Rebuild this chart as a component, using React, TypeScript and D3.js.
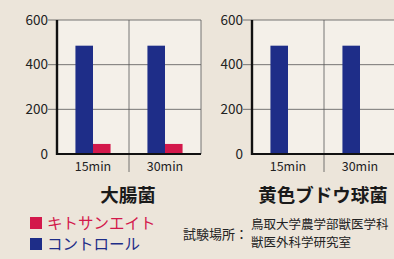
import React from 'react'
import * as d3 from 'd3'

const categories = ['15min', '30min']
const seriesNames = ['コントロール', 'キトサンエイト']
const panelTitles = ['大腸菌', '黄色ブドウ球菌']
const ecoliControl = [485, 485]
const ecoliChitosan = [45, 45]
const staphControl = [485, 485]
const staphChitosan = [0, 0]
const yTicks = [0, 200, 400, 600]

const BLUE = '#1e2d88'
const RED = '#d3184b'
const FONT = '"Noto Sans CJK JP", "Noto Sans", sans-serif'

type PanelProps = { left: number; title: string; control: number[]; chitosan: number[] }

function Panel({ left, title, control, chitosan }: PanelProps) {
  const top = 20
  const height = 134
  const width = 144
  const x0 = d3.scaleBand().domain(categories).range([0, width]).paddingInner(0).paddingOuter(0)
  // 2本のバーを帯の中央に
  const x1 = d3.scaleBand().domain(seriesNames).range([0, x0.bandwidth()]).paddingInner(0).paddingOuter(1.05)
  const y = d3.scaleLinear().domain([0, 600]).range([height, 0])
  const rows = categories.map((c, i) => ({ c, vals: [control[i], chitosan[i]] }))
  const color = d3.scaleOrdinal<string>().domain(seriesNames).range([BLUE, RED])

  return (
    <g transform={`translate(${left},${top})`}>
      <rect x={0} y={0} width={width} height={height} fill="#f4f0e9" />
      {yTicks.filter(t => t > 0).map(t => (
        <line key={t} x1={-9} x2={width} y1={y(t)} y2={y(t)} stroke="#555" strokeWidth={0.8} />
      ))}
      {d3.range(1, categories.length + 1).map(i => (
        <line key={i} x1={i * x0.bandwidth()} x2={i * x0.bandwidth()} y1={0}
          y2={i < categories.length ? height + 18 : height} stroke="#555" strokeWidth={0.8} />
      ))}
      {rows.map(r => (
        <g key={r.c} transform={`translate(${x0(r.c)},0)`}>
          {r.vals.map((v, j) => (
            <rect key={j} x={x1(seriesNames[j])} width={x1.bandwidth()} y={y(v)}
              height={height - y(v)} fill={color(seriesNames[j])} />
          ))}
          <text x={x0.bandwidth() / 2} y={height + 17} textAnchor="middle" fontSize={12.5}
            fontFamily={FONT} fill="#222">{r.c}</text>
        </g>
      ))}
      <line x1={0} x2={0} y1={0} y2={height + 1} stroke="#111" strokeWidth={2.4} />
      <line x1={-1} x2={width} y1={height} y2={height} stroke="#111" strokeWidth={2.2} />
      {yTicks.map(t => (
        <text key={t} x={-9} y={y(t) + 4.5} textAnchor="end" fontSize={13.5}
          fontFamily={FONT} fill="#222">{t}</text>
      ))}
      <text x={width / 2 - 1} y={height + 48} textAnchor="middle" fontSize={18.5}
        fontWeight="bold" fontFamily={FONT} fill="#1a1a1a">{title}</text>
    </g>
  )
}

export default function App() {
  return (
    <div style={{ position: 'fixed', left: 0, top: 0 }}>
      <svg width={394} height={259} style={{ display: 'block' }}>
        <rect width={394} height={259} fill="#ece5da" />
        <Panel left={57} title={panelTitles[0]} control={ecoliControl} chitosan={ecoliChitosan} />
        <Panel left={252} title={panelTitles[1]} control={staphControl} chitosan={staphChitosan} />
        <rect x={30} y={217} width={12} height={12} fill={RED} />
        <text x={47} y={229} fontSize={15.5} fontFamily={FONT} fill={RED}>{seriesNames[1]}</text>
        <rect x={30} y={238} width={12} height={12} fill={BLUE} />
        <text x={47} y={250} fontSize={15.5} fontFamily={FONT} fill={BLUE}>{seriesNames[0]}</text>
        <text x={183} y={239} fontSize={13} fontFamily={FONT} fill="#222">試験場所：</text>
        <text x={251} y={229} fontSize={12.5} fontFamily={FONT} fill="#222">鳥取大学農学部獣医学科</text>
        <text x={251} y={247} fontSize={12.5} fontFamily={FONT} fill="#222">獣医外科学研究室</text>
      </svg>
    </div>
  )
}
